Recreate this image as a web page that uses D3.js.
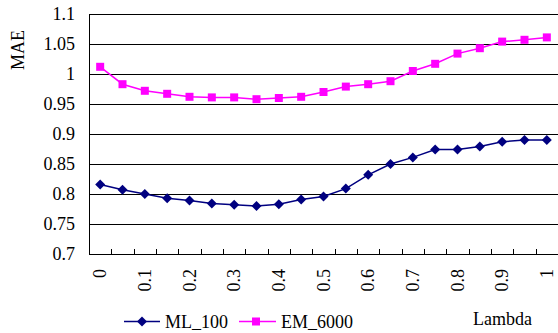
<!DOCTYPE html>
<html><head><meta charset="utf-8">
<script src="https://cdn.jsdelivr.net/npm/d3@7"></script>
<style>body{margin:0;background:#fff}svg{display:block}text{font-family:"Liberation Serif","Times New Roman",serif;fill:#000}</style>
</head><body><svg id="c" width="558" height="333"></svg>
<script>
const categories = ["0","0.05","0.1","0.15","0.2","0.25","0.3","0.35","0.4","0.45","0.5","0.55","0.6","0.65","0.7","0.75","0.8","0.85","0.9","0.95","1"];
const tickLabels = ["0","0.1","0.2","0.3","0.4","0.5","0.6","0.7","0.8","0.9","1"];
const ml100 = [0.816,0.807,0.800,0.793,0.789,0.784,0.782,0.780,0.783,0.791,0.796,0.809,0.832,0.850,0.861,0.874,0.874,0.879,0.887,0.890,0.890];
const em6000 = [1.012,0.983,0.972,0.967,0.962,0.961,0.961,0.958,0.960,0.962,0.970,0.979,0.983,0.988,1.005,1.017,1.034,1.043,1.054,1.057,1.061];
const yTicks = [0.7,0.75,0.8,0.85,0.9,0.95,1,1.05,1.1];
const yTickLabels = ["0.7","0.75","0.8","0.85","0.9","0.95","1","1.05","1.1"];

const svg = d3.select("#c");
const L = 89, R = 558, T = 14, B = 254;
const x = d3.scaleBand().domain(categories).range([L, R]).padding(0);
const y = d3.scaleLinear().domain([0.7, 1.1]).range([B, T]);

// gridlines
svg.append("g").selectAll("line").data(yTicks.slice(1)).join("line")
  .attr("x1", L).attr("x2", R)
  .attr("y1", d => Math.round(y(d)) + 0.5).attr("y2", d => Math.round(y(d)) + 0.5)
  .attr("stroke", (d,i) => "#000").attr("stroke-width", 1);

// y axis labels
svg.append("g").selectAll("text").data(yTicks).join("text")
  .attr("x", 75).attr("y", d => y(d) + 6)
  .attr("text-anchor", "end").attr("font-size", 18)
  .text((d,i) => yTickLabels[i]);

// axes lines
svg.append("line").attr("x1", L + 0.5).attr("x2", L + 0.5).attr("y1", T).attr("y2", B + 1).attr("stroke", "#000");
svg.append("line").attr("x1", L).attr("x2", R).attr("y1", B + 0.5).attr("y2", B + 0.5).attr("stroke", "#000");

// x tick marks (between categories, inward)
svg.append("g").selectAll("line").data(categories.slice(1)).join("line")
  .attr("x1", d => Math.round(x(d)) + 0.5).attr("x2", d => Math.round(x(d)) + 0.5)
  .attr("y1", B).attr("y2", B - 5).attr("stroke", "#000");

// x labels rotated
svg.append("g").selectAll("text").data(tickLabels).join("text")
  .attr("transform", d => `translate(${x(d) + x.bandwidth()/2 + 6},269) rotate(-90)`)
  .attr("text-anchor", "end").attr("font-size", 18)
  .text(d => d);

const line = d3.line().x((d,i) => x(categories[i]) + x.bandwidth()/2).y(d => y(d));

// ML_100
svg.append("path").datum(ml100).attr("d", line).attr("fill", "none").attr("stroke", "#000080").attr("stroke-width", 1.5);
const diamond = d3.symbol().type(d3.symbolDiamond2).size(64);
svg.append("g").selectAll("path").data(ml100).join("path")
  .attr("transform", (d,i) => `translate(${x(categories[i]) + x.bandwidth()/2},${y(d)}) rotate(45)`)
  .attr("d", d3.symbol().type(d3.symbolSquare).size(50)).attr("fill", "#000080");

// EM_6000
svg.append("path").datum(em6000).attr("d", line).attr("fill", "none").attr("stroke", "#FF00FF").attr("stroke-width", 1.5);
svg.append("g").selectAll("rect").data(em6000).join("rect")
  .attr("x", (d,i) => x(categories[i]) + x.bandwidth()/2 - 4).attr("y", d => y(d) - 4)
  .attr("width", 8).attr("height", 8).attr("fill", "#FF00FF");

// axis titles
svg.append("text").attr("transform", "translate(24,50) rotate(-90)").attr("text-anchor", "middle").attr("font-size", 18).text("MAE");
svg.append("text").attr("x", 473).attr("y", 325).attr("font-size", 18).text("Lambda");

// legend
const lg = svg.append("g");
lg.append("line").attr("x1", 124).attr("x2", 160).attr("y1", 321.5).attr("y2", 321.5).attr("stroke", "#000080").attr("stroke-width", 1.5);
lg.append("path").attr("transform", "translate(142,321.5) rotate(45)").attr("d", d3.symbol().type(d3.symbolSquare).size(50)).attr("fill", "#000080");
lg.append("text").attr("x", 165).attr("y", 328).attr("font-size", 18).text("ML_100");
lg.append("line").attr("x1", 239).attr("x2", 276).attr("y1", 321.5).attr("y2", 321.5).attr("stroke", "#FF00FF").attr("stroke-width", 1.5);
lg.append("rect").attr("x", 252).attr("y", 317.5).attr("width", 8).attr("height", 8).attr("fill", "#FF00FF");
lg.append("text").attr("x", 281).attr("y", 328).attr("font-size", 18).text("EM_6000");
</script></body></html>
